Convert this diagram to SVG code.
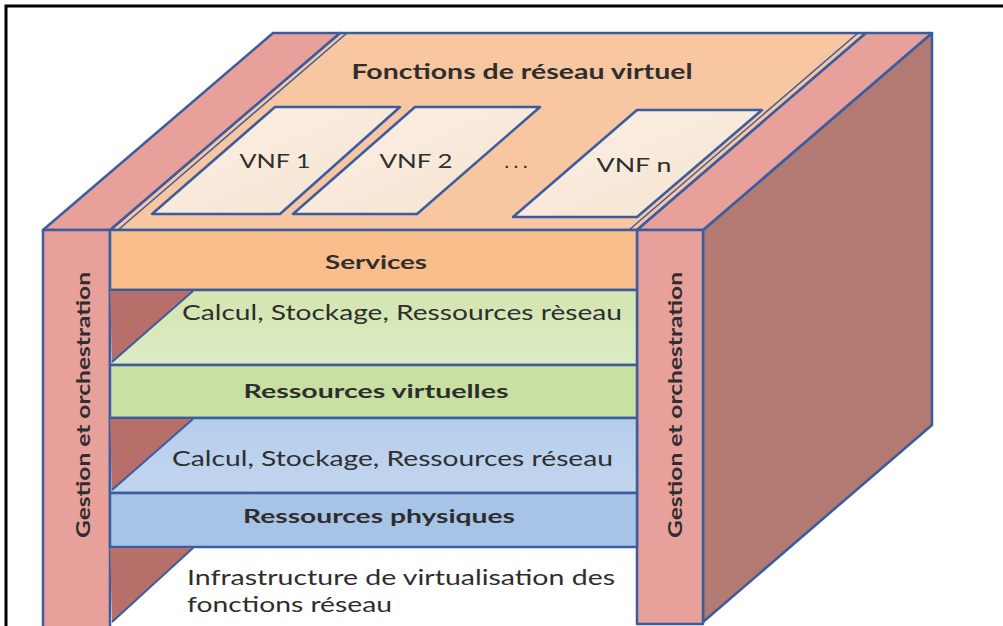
<svg xmlns="http://www.w3.org/2000/svg" width="1003" height="626" viewBox="0 0 1003 626">
  <style>
    .edge { stroke: #3B5C9E; stroke-width: 2.5; stroke-linejoin: round; }
    .txt { font-family: Lato, "Open Sans", "Liberation Sans", sans-serif; fill: #2E2E2E; }
    .b { font-weight: bold; }
    .pink { fill: #E8A09B; }
    .tri { fill: #B86F69; }
  </style>
  <defs>
    <linearGradient id="vnfGrad" x1="0" y1="0" x2="1" y2="1">
      <stop offset="0" stop-color="#FBF1E6"/>
      <stop offset="1" stop-color="#F6E2CF"/>
    </linearGradient>
    <linearGradient id="greenGrad" x1="0" y1="0" x2="0" y2="1">
      <stop offset="0" stop-color="#D3E5B0"/>
      <stop offset="1" stop-color="#DCEBC2"/>
    </linearGradient>
    <linearGradient id="blueGrad" x1="0" y1="0" x2="0" y2="1">
      <stop offset="0" stop-color="#B5CDEC"/>
      <stop offset="1" stop-color="#C2D5EE"/>
    </linearGradient>
  </defs>

  <rect x="0" y="0" width="1003" height="626" fill="#FFFFFF"/>
  <!-- outer frame -->
  <path d="M6,626 V6 H1003" fill="none" stroke="#000" stroke-width="3"/>

  <!-- top face -->
  <g id="top-face">
    <polygon points="110,230 340,33 866,33 637,230" fill="#F8C6A0" class="edge"/>
    <text class="txt b" x="522" y="79" font-size="20" text-anchor="middle" textLength="341" lengthAdjust="spacingAndGlyphs">Fonctions de réseau virtuel</text>
  </g>

  <g id="vnf1">
    <polygon points="152,214 280,214 400,107 275,107" fill="url(#vnfGrad)" class="edge"/>
    <text class="txt" x="275" y="168" font-size="19" text-anchor="middle" textLength="71" lengthAdjust="spacingAndGlyphs">VNF 1</text>
  </g>
  <g id="vnf2">
    <polygon points="293,214 417,214 540,107 415,107" fill="url(#vnfGrad)" class="edge"/>
    <text class="txt" x="416" y="168" font-size="19" text-anchor="middle" textLength="73" lengthAdjust="spacingAndGlyphs">VNF 2</text>
  </g>
  <g id="dots">
    <text class="txt" x="516" y="168" font-size="19" text-anchor="middle">. . .</text>
  </g>
  <g id="vnfn">
    <polygon points="513,217 637,217 762,110 637,110" fill="url(#vnfGrad)" class="edge"/>
    <text class="txt" x="634" y="172" font-size="19" text-anchor="middle" textLength="75" lengthAdjust="spacingAndGlyphs">VNF n</text>
  </g>

  <!-- right side face -->
  <g id="side-face">
    <polygon points="703,230 932,33 932,425 703,622" fill="#B27A73" class="edge"/>
  </g>

  <!-- left pillar -->
  <g id="left-pillar">
    <polygon points="43,230 110,230 340,33 273,33" class="pink edge"/>
    <line x1="118" y1="230" x2="347" y2="33" stroke="#3B5C9E" stroke-width="1.5"/>
    <rect x="43" y="230" width="67" height="400" class="pink edge"/>
    <text class="txt b" transform="translate(90,405) rotate(-90)" font-size="19" text-anchor="middle" textLength="266" lengthAdjust="spacingAndGlyphs">Gestion et orchestration</text>
  </g>

  <!-- right pillar -->
  <g id="right-pillar">
    <polygon points="637,230 703,230 932,33 866,33" class="pink edge"/>
    <line x1="629" y1="230" x2="858" y2="33" stroke="#3B5C9E" stroke-width="1.5"/>
    <rect x="637" y="230" width="66" height="394" class="pink edge"/>
    <text class="txt b" transform="translate(682,405) rotate(-90)" font-size="19" text-anchor="middle" textLength="266" lengthAdjust="spacingAndGlyphs">Gestion et orchestration</text>
  </g>

  <!-- layers -->
  <g id="services">
    <rect x="110" y="230" width="527" height="60" fill="#F9BE8C" class="edge"/>
    <text class="txt b" x="376" y="269" font-size="19" text-anchor="middle" textLength="102" lengthAdjust="spacingAndGlyphs">Services</text>
  </g>

  <g id="calcul-virtuel">
    <rect x="110" y="290" width="527" height="75" fill="url(#greenGrad)" class="edge"/>
    <polygon points="110,291 193,291 112,362" class="tri"/>
    <line x1="193" y1="291" x2="112" y2="362" stroke="#3B5C9E" stroke-width="2"/>
    <text class="txt" x="182" y="320" font-size="21" fill="#2E3A2A" textLength="440" lengthAdjust="spacingAndGlyphs">Calcul, Stockage, Ressources rèseau</text>
  </g>

  <g id="ressources-virtuelles">
    <rect x="110" y="365" width="527" height="53" fill="#C8E0A2" class="edge"/>
    <text class="txt b" x="376" y="398" font-size="19" text-anchor="middle" textLength="265" lengthAdjust="spacingAndGlyphs">Ressources virtuelles</text>
  </g>

  <g id="calcul-physique">
    <rect x="110" y="418" width="527" height="75" fill="url(#blueGrad)" class="edge"/>
    <polygon points="110,419 193,419 112,490" class="tri"/>
    <line x1="193" y1="419" x2="112" y2="490" stroke="#3B5C9E" stroke-width="2"/>
    <text class="txt" x="172" y="466" font-size="21" fill="#22304A" textLength="441" lengthAdjust="spacingAndGlyphs">Calcul, Stockage, Ressources réseau</text>
  </g>

  <g id="ressources-physiques">
    <rect x="110" y="493" width="527" height="54" fill="#A7C3E6" class="edge"/>
    <text class="txt b" x="379" y="523" font-size="19" text-anchor="middle" textLength="272" lengthAdjust="spacingAndGlyphs">Ressources physiques</text>
  </g>

  <g id="infrastructure">
    <polygon points="110,548 193,548 112,622" class="tri"/>
    <line x1="193" y1="548" x2="112" y2="622" stroke="#3B5C9E" stroke-width="2"/>
    <text class="txt" x="187" y="585" font-size="21" textLength="428" lengthAdjust="spacingAndGlyphs">Infrastructure de virtualisation des</text>
    <text class="txt" x="187" y="612" font-size="21" textLength="205" lengthAdjust="spacingAndGlyphs">fonctions réseau</text>
  </g>
</svg>
